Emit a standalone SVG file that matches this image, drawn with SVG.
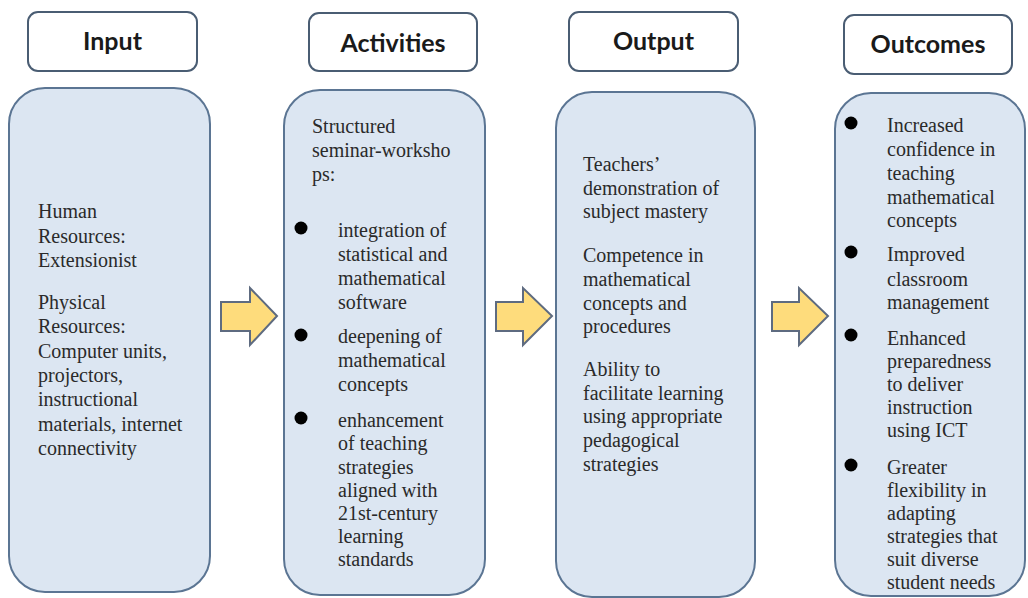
<svg xmlns="http://www.w3.org/2000/svg" width="1028" height="598" viewBox="0 0 1028 598">
<style>
.hdr{fill:#ffffff;stroke:#4a5d73;stroke-width:2}
.hdrt{font-family:Lato,"Liberation Sans",sans-serif;font-weight:bold;font-size:25px;fill:#1a1a1a;text-anchor:middle}
.box{fill:#dce6f2;stroke:#5b7593;stroke-width:2}
.t{font-family:"Liberation Serif","Times New Roman",serif;font-size:20px;fill:#2a2a2a}
.dot{fill:#000000}
.arr{fill:#fedc7c;stroke:#5e6b80;stroke-width:2;stroke-linejoin:miter}
</style>
<rect width="1028" height="598" fill="#ffffff"/>

<g id="input">
<rect class="hdr" x="28" y="12" width="169" height="59" rx="10"/>
<text class="hdrt" x="112.5" y="50">Input</text>
<rect class="box" x="9" y="88" width="201" height="504" rx="36"/>
<text class="t" x="38" y="218">Human</text>
<text class="t" x="38" y="243">Resources:</text>
<text class="t" x="38" y="267">Extensionist</text>
<text class="t" x="38" y="309">Physical</text>
<text class="t" x="38" y="333">Resources:</text>
<text class="t" x="38" y="358">Computer units,</text>
<text class="t" x="38" y="382">projectors,</text>
<text class="t" x="38" y="406">instructional</text>
<text class="t" x="38" y="431">materials, internet</text>
<text class="t" x="38" y="455">connectivity</text>
</g>

<g id="activities">
<rect class="hdr" x="309" y="13" width="168" height="58" rx="10"/>
<text class="hdrt" x="393" y="52">Activities</text>
<rect class="box" x="284" y="90" width="201" height="505" rx="36"/>
<text class="t" x="312" y="133">Structured</text>
<text class="t" x="312" y="157">seminar-worksho</text>
<text class="t" x="312" y="181">ps:</text>
<circle class="dot" cx="301" cy="228" r="6.5"/>
<text class="t" x="338" y="237">integration of</text>
<text class="t" x="338" y="261">statistical and</text>
<text class="t" x="338" y="285">mathematical</text>
<text class="t" x="338" y="309">software</text>
<circle class="dot" cx="301" cy="335" r="6.5"/>
<text class="t" x="338" y="343">deepening of</text>
<text class="t" x="338" y="367">mathematical</text>
<text class="t" x="338" y="391">concepts</text>
<circle class="dot" cx="301" cy="418" r="6.5"/>
<text class="t" x="338" y="427">enhancement</text>
<text class="t" x="338" y="450">of teaching</text>
<text class="t" x="338" y="474">strategies</text>
<text class="t" x="338" y="497">aligned with</text>
<text class="t" x="338" y="520">21st-century</text>
<text class="t" x="338" y="543">learning</text>
<text class="t" x="338" y="566">standards</text>
</g>

<g id="output">
<rect class="hdr" x="569" y="12" width="169" height="59" rx="10"/>
<text class="hdrt" x="653.5" y="50">Output</text>
<rect class="box" x="556" y="92" width="199" height="505" rx="36"/>
<text class="t" x="583" y="171">Teachers’</text>
<text class="t" x="583" y="195">demonstration of</text>
<text class="t" x="583" y="218">subject mastery</text>
<text class="t" x="583" y="262">Competence in</text>
<text class="t" x="583" y="286">mathematical</text>
<text class="t" x="583" y="310">concepts and</text>
<text class="t" x="583" y="333">procedures</text>
<text class="t" x="583" y="376">Ability to</text>
<text class="t" x="583" y="400">facilitate learning</text>
<text class="t" x="583" y="423">using appropriate</text>
<text class="t" x="583" y="447">pedagogical</text>
<text class="t" x="583" y="471">strategies</text>
</g>

<g id="outcomes">
<rect class="hdr" x="844" y="15" width="168" height="59" rx="10"/>
<text class="hdrt" x="928" y="53">Outcomes</text>
<rect class="box" x="835" y="93" width="190" height="503" rx="36"/>
<circle class="dot" cx="851" cy="123" r="6.5"/>
<text class="t" x="887" y="132">Increased</text>
<text class="t" x="887" y="156">confidence in</text>
<text class="t" x="887" y="180">teaching</text>
<text class="t" x="887" y="204">mathematical</text>
<text class="t" x="887" y="227">concepts</text>
<circle class="dot" cx="851" cy="252" r="6.5"/>
<text class="t" x="887" y="261">Improved</text>
<text class="t" x="887" y="286">classroom</text>
<text class="t" x="887" y="309">management</text>
<circle class="dot" cx="851" cy="335" r="6.5"/>
<text class="t" x="887" y="345">Enhanced</text>
<text class="t" x="887" y="368">preparedness</text>
<text class="t" x="887" y="391">to deliver</text>
<text class="t" x="887" y="414">instruction</text>
<text class="t" x="887" y="437">using ICT</text>
<circle class="dot" cx="851" cy="465" r="6.5"/>
<text class="t" x="887" y="474">Greater</text>
<text class="t" x="887" y="497">flexibility in</text>
<text class="t" x="887" y="520">adapting</text>
<text class="t" x="887" y="543">strategies that</text>
<text class="t" x="887" y="566">suit diverse</text>
<text class="t" x="887" y="589">student needs</text>
</g>

<g id="connectors">
<path class="arr" d="M221,302 H250 V288 L277,316 L250,345 V331 H221 Z"/>
<path class="arr" d="M496,302 H523 V288 L552,316 L523,345 V331 H496 Z"/>
<path class="arr" d="M772,302 H799 V288 L828,316 L799,345 V331 H772 Z"/>
</g>
</svg>
